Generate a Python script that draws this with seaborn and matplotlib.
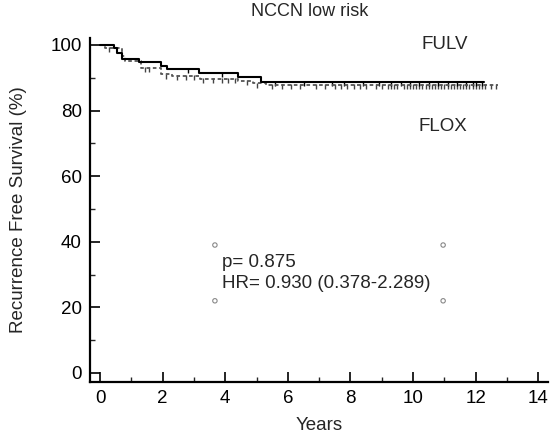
import numpy as np
import pandas as pd
import matplotlib
matplotlib.use("Agg")
import matplotlib.pyplot as plt
from matplotlib.path import Path
from matplotlib.ticker import MultipleLocator
import seaborn as sns

# ---- data ----
fulv_t = [0, 0.45, 0.55, 0.70, 1.25, 1.95, 2.15, 3.15, 4.40, 5.15, 12.25]
fulv_s = [100, 99.2, 97.5, 95.8, 94.8, 93.6, 92.7, 91.5, 90.2, 88.7, 88.7]
flox_t = [0, 0.15, 0.70, 0.80, 1.30, 1.95, 2.30, 3.20, 4.40, 4.90, 5.30, 12.70]
flox_s = [100, 99.2, 96.5, 95.0, 93.0, 91.0, 90.5, 89.6, 89.0, 88.3, 87.9, 87.9]
fulv_censor = [2.8, 3.9, 5.6, 6.5, 7.4, 7.8, 8.4, 8.9, 9.3, 9.6, 9.9, 10.2,
               10.5, 10.8, 11.1, 11.4, 11.7, 11.9, 12.0, 12.2]
flox_censor = [0.3, 1.45, 1.55, 2.1, 2.45, 2.75, 3.0, 3.3, 3.6, 3.9, 4.1, 4.3,
               4.7, 5.0, 5.5, 5.8, 6.1, 6.4, 6.9, 7.2, 7.5, 7.7, 7.9, 8.1, 8.3,
               8.5, 8.8, 9.0, 9.2, 9.3, 9.4, 9.5, 9.7, 9.8, 9.9, 10.0, 10.1,
               10.2, 10.3, 10.4, 10.5, 10.6, 10.7, 10.8, 10.9, 11.0, 11.1, 11.2,
               11.3, 11.4, 11.5, 11.6, 11.7, 11.8, 11.9, 12.0, 12.1, 12.2, 12.3,
               12.5, 12.65]
group_labels = ["FULV", "FLOX"]
title = "NCCN low risk"
p_text = "p= 0.875"
hr_text = "HR= 0.930 (0.378-2.289)"
box_x = [3.67, 10.96]
box_y = [39.0, 22.0]
x_ticks = [0, 2, 4, 6, 8, 10, 12, 14]
y_ticks = [0, 20, 40, 60, 80, 100]

FS = 13.5
sns.set_theme(style="ticks")
plt.rcParams["font.family"] = ["Liberation Sans", "DejaVu Sans"]

fig = plt.figure(figsize=(5.53, 4.41), dpi=100)
ax = fig.add_axes([90 / 553, (441 - 382) / 441, (548 - 90) / 553, (382 - 38) / 441])

def surv_at(ts, ss, t):
    i = np.searchsorted(ts, t, side="right") - 1
    return np.asarray(ss)[i]

df_fulv = pd.DataFrame({"t": fulv_t, "s": fulv_s})
df_flox = pd.DataFrame({"t": flox_t, "s": flox_s})
sns.lineplot(data=df_flox, x="t", y="s", drawstyle="steps-post", color="#555555",
             linestyle=(0, (2, 1.5)), linewidth=1.3, ax=ax, estimator=None, sort=False)
sns.lineplot(data=df_fulv, x="t", y="s", drawstyle="steps-post", color="black",
             linewidth=1.5, ax=ax, estimator=None, sort=False)

tick_marker = Path([(0, 0.15), (0, -1)], [Path.MOVETO, Path.LINETO])
df_cf = pd.DataFrame({"t": flox_censor, "s": surv_at(flox_t, flox_s, flox_censor)})
df_cu = pd.DataFrame({"t": fulv_censor, "s": surv_at(fulv_t, fulv_s, fulv_censor)})
sns.scatterplot(data=df_cf, x="t", y="s", marker=tick_marker, s=40, facecolor="none",
                edgecolor="#444444", linewidth=1.0, ax=ax)
sns.scatterplot(data=df_cu, x="t", y="s", marker=tick_marker, s=40, facecolor="none",
                edgecolor="black", linewidth=1.0, ax=ax)

# annotation box corners
cx = [box_x[0], box_x[1], box_x[0], box_x[1]]
cy = [box_y[0], box_y[0], box_y[1], box_y[1]]
sns.scatterplot(x=cx, y=cy, marker="o", s=10, facecolor="none", edgecolor="#888888",
                linewidth=0.8, ax=ax)
ax.text(3.9, 33.8, p_text, fontsize=FS, va="center", ha="left")
ax.text(3.9, 27.2, hr_text, fontsize=FS, va="center", ha="left")
ax.text(11.0, 100.0, group_labels[0], fontsize=FS, va="center", ha="center")
ax.text(10.96, 75.0, group_labels[1], fontsize=FS, va="center", ha="center")
fig.text(310 / 553, 1 - 12 / 441, title, fontsize=FS - 0.5, ha="center", va="center")

ax.set_xlim(-0.32, 14.31)
ax.set_ylim(-2.75, 102.1)
ax.set_xticks(x_ticks)
ax.set_yticks(y_ticks)
ax.xaxis.set_minor_locator(MultipleLocator(1))
ax.yaxis.set_minor_locator(MultipleLocator(10))
ax.tick_params(axis="both", which="major", direction="in", length=7, width=1.2,
               labelsize=FS, colors="black", pad=6)
ax.tick_params(axis="both", which="minor", direction="in", length=3.5, width=1.0)
ax.set_xlabel("Years", fontsize=FS, labelpad=7)
ax.set_ylabel("Recurrence Free Survival (%)", fontsize=FS, labelpad=17)
for side in ["top", "right"]:
    ax.spines[side].set_visible(False)
for side in ["left", "bottom"]:
    ax.spines[side].set_linewidth(1.6)
    ax.spines[side].set_color("black")
ax.set_facecolor("white")
fig.savefig("out.png", dpi=100, facecolor="white")
